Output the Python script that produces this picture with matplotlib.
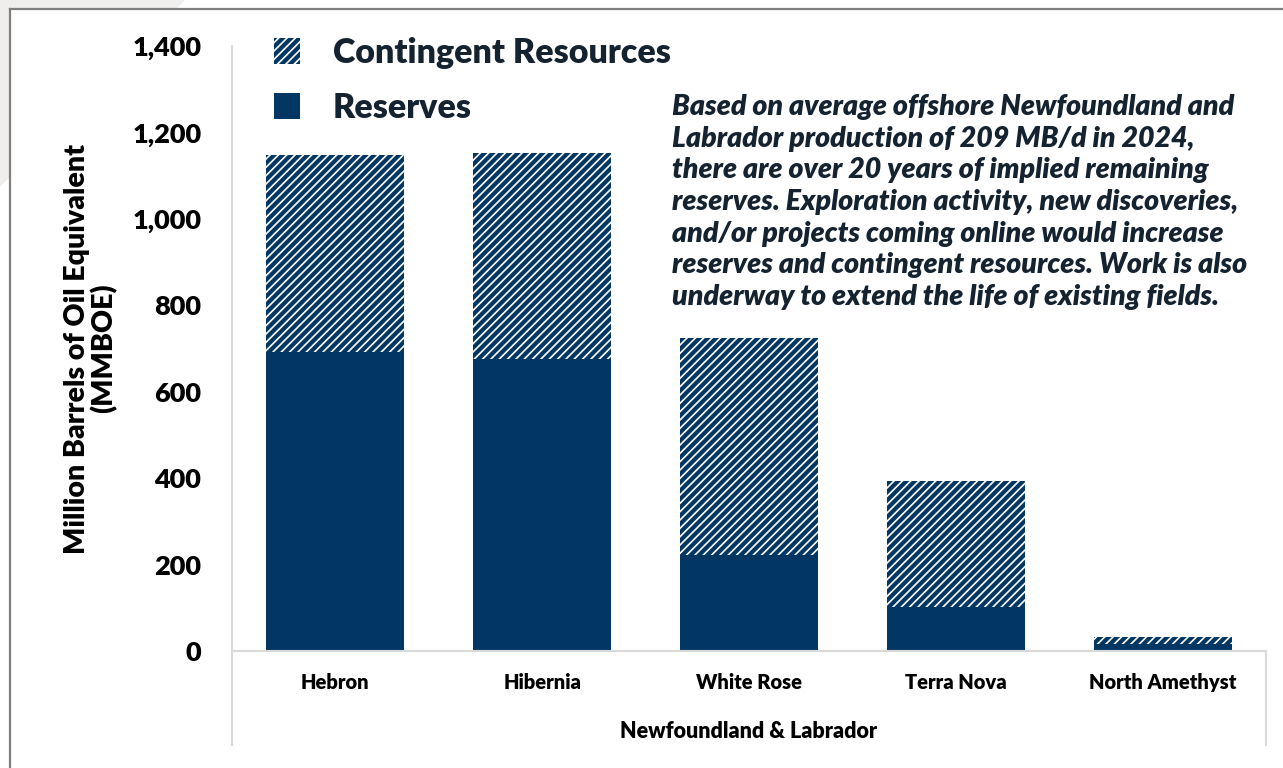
import matplotlib
matplotlib.use("Agg")
import matplotlib.pyplot as plt
from matplotlib.lines import Line2D
from matplotlib.patches import Patch, Polygon, Rectangle
from matplotlib.ticker import FuncFormatter

# Data (MMBOE).
fields = ["Hebron", "Hibernia", "White Rose", "Terra Nova", "North Amethyst"]
reserves = [692, 676, 222, 102, 16]
contingent = [456, 477, 503, 292, 17]
y_ticks = [0, 200, 400, 600, 800, 1000, 1200, 1400]

group_label = "Newfoundland & Labrador"
y_label = "Million Barrels of Oil Equivalent\n(MMBOE)"
note = ("Based on average offshore Newfoundland and\n"
        "Labrador production of 209 MB/d in 2024,\n"
        "there are over 20 years of implied remaining\n"
        "reserves. Exploration activity, new discoveries,\n"
        "and/or projects coming online would increase\n"
        "reserves and contingent resources. Work is also\n"
        "underway to extend the life of existing fields.")

navy = "#023763"
dark_text = "#15222f"
axis_grey = "#d9d9d9"
heavy = 800

plt.rcParams["font.family"] = "Lato"
plt.rcParams["font.weight"] = heavy
plt.rcParams["hatch.linewidth"] = 1.2
plt.rcParams["hatch.color"] = "white"

fig = plt.figure(figsize=(12.83, 7.68), dpi=100)

# Decorative grey corner behind a white panel, plus the frame lines.
fig.patches.append(Polygon([[0, 1], [185 / 1283, 1], [0, 1 - 187 / 768]],
                           closed=True, transform=fig.transFigure,
                           facecolor="#efeeec", edgecolor="none", zorder=-2))
fig.patches.append(Rectangle((10 / 1283, 0), 1, 1 - 9 / 768,
                             transform=fig.transFigure, facecolor="white",
                             edgecolor="none", zorder=-1))
fig.add_artist(Line2D([10 / 1283, 10 / 1283], [0, 1 - 9 / 768],
                      transform=fig.transFigure, color="#7f7f7f", lw=1.6))
fig.add_artist(Line2D([10 / 1283, 1], [1 - 9 / 768, 1 - 9 / 768],
                      transform=fig.transFigure, color="#7f7f7f", lw=1.6))

ax = fig.add_axes([232 / 1283, 1 - 651 / 768, (1266 - 232) / 1283,
                   (651 - 46) / 768])
ax.patch.set_alpha(0)

x = list(range(len(fields)))
width = 0.667

ax.bar(x, reserves, width, color=navy, edgecolor=navy, linewidth=0,
       label="Reserves", zorder=2)
ax.bar(x, contingent, width, bottom=reserves, facecolor=navy,
       edgecolor="white", hatch="////", linewidth=0,
       label="Contingent Resources", zorder=2)

ax.set_xlim(-0.5, len(fields) - 0.5)
ax.set_ylim(0, 1400)
ax.set_yticks(y_ticks)
ax.yaxis.set_major_formatter(FuncFormatter(lambda v, pos: "{:,.0f}".format(v)))
ax.set_xticks(x)
ax.set_xticklabels(fields, fontweight=heavy)
ax.set_yticklabels(["{:,.0f}".format(v) for v in y_ticks], fontweight=heavy)

ax.tick_params(axis="y", length=0, pad=22, labelsize=19.5, labelcolor="black")
ax.tick_params(axis="x", length=0, pad=16, labelsize=14.5, labelcolor="black")

for side in ["top", "right", "left"]:
    ax.spines[side].set_visible(False)
ax.spines["bottom"].set_color(axis_grey)
ax.spines["bottom"].set_linewidth(1.5)

# Category axis frame lines extending below the baseline.
ax.add_artist(Line2D([0, 0], [1, -94 / 605], transform=ax.transAxes,
                     color=axis_grey, lw=1.5, clip_on=False))
ax.add_artist(Line2D([1, 1], [0, -94 / 605], transform=ax.transAxes,
                     color=axis_grey, lw=1.5, clip_on=False))

ax.set_xlabel(group_label, fontsize=15.5, fontweight=heavy, labelpad=21)
ax.set_ylabel(y_label, fontsize=20.5, fontweight=heavy, linespacing=1.0)
ax.yaxis.set_label_coords(-0.111, 0.5)

handles = [Patch(facecolor=navy, edgecolor="white", hatch="////", lw=0),
           Patch(facecolor=navy, edgecolor=navy, lw=0)]
leg = fig.legend(handles, ["Contingent Resources", "Reserves"],
                 loc="upper left", bbox_to_anchor=(274 / 1283, 1 - 37 / 768),
                 frameon=False, prop={"family": "Lato", "weight": heavy,
                                      "size": 24.5},
                 handlelength=0.75, handleheight=0.8, handletextpad=0.97,
                 labelspacing=0.68, borderpad=0, borderaxespad=0)
for t in leg.get_texts():
    t.set_color(dark_text)

fig.text(672 / 1283, 1 - 94 / 768, note, ha="left", va="top",
         fontsize=20.5, fontweight=heavy, fontstyle="italic",
         color=dark_text, linespacing=1.27)

plt.savefig("out.png", dpi=100)
plt.close()
